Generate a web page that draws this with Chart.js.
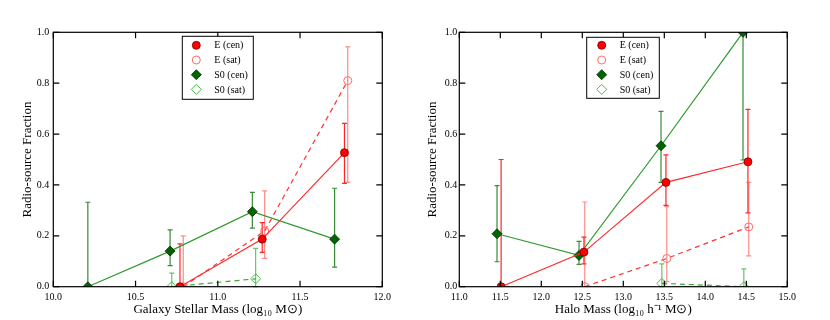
<!DOCTYPE html>
<html><head><meta charset="utf-8">
<script src="https://cdn.jsdelivr.net/npm/chart.js@4/dist/chart.umd.min.js"></script>
<style>
html,body{margin:0;padding:0;background:#fff;}
#wrap{width:830px;height:320px;position:relative;overflow:hidden;}
canvas{position:absolute;top:0;}
</style></head><body>
<div id="wrap"><canvas id="c1" width="415" height="320" style="left:0"></canvas><canvas id="c2" width="415" height="320" style="left:415px"></canvas></div>
<script>
// ---------- labels / ticks ----------
const seriesNames = ['E (cen)', 'E (sat)', 'S0 (cen)', 'S0 (sat)'];
const stellarTicks = [10.0, 10.5, 11.0, 11.5, 12.0];
const haloTicks = [11.0, 11.5, 12.0, 12.5, 13.0, 13.5, 14.0, 14.5, 15.0];
const fracTicks = [0.0, 0.2, 0.4, 0.6, 0.8, 1.0];
const leftXTitle = 'Galaxy Stellar Mass (log\u2081\u2080 M\u2299)';
const rightXTitle = 'Halo Mass (log\u2081\u2080 h\u207B\u00B9 M\u2299)';
const yTitle = 'Radio-source Fraction';

// ---------- left panel: galaxy stellar mass ----------
const smECenX = [10.77, 11.27, 11.77];
const smECenY = [0.0, 0.187, 0.527];
const smECenLo = [0.0, 0.135, 0.406];
const smECenHi = [0.168, 0.252, 0.642];

const smESatX = [10.79, 11.285, 11.79];
const smESatY = [0.0, 0.219, 0.810];
const smESatLo = [0.0, 0.111, 0.410];
const smESatHi = [0.200, 0.377, 0.943];

const smS0CenX = [10.21, 10.71, 11.21, 11.71];
const smS0CenY = [0.0, 0.140, 0.295, 0.187];
const smS0CenLo = [0.0, 0.083, 0.230, 0.077];
const smS0CenHi = [0.332, 0.223, 0.371, 0.387];

const smS0SatX = [10.72, 11.23];
const smS0SatY = [0.0, 0.031];
const smS0SatLo = [0.0, 0.0];
const smS0SatHi = [0.053, 0.151];

// ---------- right panel: halo mass ----------
const hmECenX = [11.51, 12.52, 13.52, 14.52];
const hmECenY = [0.0, 0.136, 0.410, 0.491];
const hmECenLo = [0.0, 0.090, 0.320, 0.290];
const hmECenHi = [0.500, 0.195, 0.518, 0.697];

const hmESatX = [12.53, 13.53, 14.53];
const hmESatY = [0.0, 0.111, 0.235];
const hmESatLo = [0.0, 0.020, 0.121];
const hmESatHi = [0.333, 0.315, 0.410];

const hmS0CenX = [11.46, 12.46, 13.46, 14.46];
const hmS0CenY = [0.208, 0.123, 0.554, 1.0];
const hmS0CenLo = [0.098, 0.088, 0.410, 0.498];
const hmS0CenHi = [0.397, 0.178, 0.689, 1.0];

const hmS0SatX = [13.47, 14.47];
const hmS0SatY = [0.013, 0.0];
const hmS0SatLo = [0.0, 0.0];
const hmS0SatHi = [0.090, 0.070];

// ---------- styles ----------
const styles = [
  {line: '#ff2b2b', dash: [], ps: 'circle', r: 4, bg: '#ff0000', bd: '#7a0000', bw: 0.8, err: 'rgba(255,0,0,0.85)'},
  {line: '#ff3030', dash: [5, 4], ps: 'circle', r: 4, bg: 'rgba(255,255,255,0)', bd: '#ff6a6a', bw: 1, err: 'rgba(255,60,60,0.6)'},
  {line: '#2f9a2f', dash: [], ps: 'rectRot', r: 5, bg: '#006400', bd: '#003000', bw: 0.8, err: 'rgba(20,120,20,0.85)'},
  {line: '#3aa63a', dash: [5, 4], ps: 'rectRot', r: 5, bg: 'rgba(255,255,255,0)', bd: '#4cbc4c', bw: 1, err: 'rgba(60,170,60,0.75)'}
];
const FONT = "'Liberation Serif', 'Times New Roman', serif";

function makeDataset(i, xs, ys, lo, hi) {
  const s = styles[i];
  return {
    label: seriesNames[i],
    data: xs.map((x, k) => ({x: x, y: ys[k]})),
    errLo: lo, errHi: hi,
    showLine: true,
    borderColor: s.line, borderWidth: 1.2, borderDash: s.dash,
    pointStyle: s.ps, pointRadius: s.r, pointHoverRadius: s.r,
    pointBackgroundColor: s.bg, pointBorderColor: s.bd, pointBorderWidth: s.bw,
    errColor: s.err, legendStyle: s
  };
}

const decoPlugin = {
  id: 'deco',
  beforeDatasetsDraw(chart) {
    const ctx = chart.ctx, xs = chart.scales.x, ys = chart.scales.y;
    ctx.save();
    chart.data.datasets.forEach(ds => {
      ctx.strokeStyle = ds.errColor; ctx.lineWidth = 1.2; ctx.setLineDash([]);
      ds.data.forEach((p, k) => {
        const px = xs.getPixelForValue(p.x);
        const y1 = ys.getPixelForValue(ds.errLo[k]);
        const y2 = ys.getPixelForValue(ds.errHi[k]);
        ctx.beginPath();
        ctx.moveTo(px, y1); ctx.lineTo(px, y2);
        if (ds.errHi[k] > ds.data[k].y) { ctx.moveTo(px - 2.5, y2); ctx.lineTo(px + 2.5, y2); }
        if (ds.errLo[k] < ds.data[k].y) { ctx.moveTo(px - 2.5, y1); ctx.lineTo(px + 2.5, y1); }
        ctx.stroke();
      });
    });
    ctx.restore();
  },
  afterDraw(chart, args, opts) {
    const ctx = chart.ctx, a = chart.chartArea, xs = chart.scales.x, ys = chart.scales.y;
    ctx.save();
    ctx.strokeStyle = '#000'; ctx.lineWidth = 1.2; ctx.setLineDash([]);
    ctx.strokeRect(a.left, a.top, a.right - a.left, a.bottom - a.top);
    const L = 6;
    ctx.beginPath();
    xs.ticks.forEach(t => {
      const px = xs.getPixelForValue(t.value);
      ctx.moveTo(px, a.bottom); ctx.lineTo(px, a.bottom - L);
      ctx.moveTo(px, a.top); ctx.lineTo(px, a.top + L);
    });
    ys.ticks.forEach(t => {
      const py = ys.getPixelForValue(t.value);
      ctx.moveTo(a.left, py); ctx.lineTo(a.left + L, py);
      ctx.moveTo(a.right, py); ctx.lineTo(a.right - L, py);
    });
    ctx.stroke();
    // legend
    const bx = a.left + opts.legendLeft, by = a.top + opts.legendTop;
    ctx.fillStyle = '#fff';
    ctx.fillRect(bx, by, opts.legendW, opts.legendH);
    ctx.strokeStyle = '#000'; ctx.lineWidth = 1;
    ctx.strokeRect(bx, by, opts.legendW, opts.legendH);
    ctx.font = '10px ' + FONT;
    ctx.textBaseline = 'middle'; ctx.textAlign = 'left';
    chart.data.datasets.forEach((ds, i) => {
      const s = ds.legendStyle;
      const cy = by + opts.rowTop + i * opts.rowGap;
      const cx = bx + opts.markerX;
      ctx.save();
      ctx.fillStyle = s.bg; ctx.strokeStyle = s.bd; ctx.lineWidth = s.bw;
      Chart.helpers.drawPoint(ctx, {pointStyle: s.ps, radius: s.r, borderWidth: s.bw, rotation: 0}, cx, cy);
      ctx.restore();
      ctx.fillStyle = '#000';
      ctx.fillText(ds.label, bx + opts.textX, cy + 0.5);
    });
    ctx.restore();
  }
};

function makeChart(id, cfg) {
  return new Chart(document.getElementById(id), {
    type: 'scatter',
    data: {datasets: cfg.datasets},
    options: {
      responsive: false, animation: false, devicePixelRatio: 1,
      layout: {padding: {left: cfg.padLeft, right: cfg.padRight, top: 32.3, bottom: 0}},
      plugins: {
        legend: {display: false}, tooltip: {enabled: false},
        deco: cfg.legend
      },
      scales: {
        x: {
          type: 'linear', min: cfg.xMin, max: cfg.xMax,
          afterBuildTicks: s => { s.ticks = cfg.xTicks.map(v => ({value: v})); },
          afterFit: s => { s.height = 33.3; },
          grid: {display: false, drawTicks: false}, border: {display: false},
          ticks: {autoSkip: false, maxRotation: 0, padding: 4.5, color: '#000',
                  font: {family: FONT, size: 10}, callback: v => Number(v).toFixed(1)},
          title: {display: true, text: cfg.xTitle, color: '#000', padding: {top: 0, bottom: 3},
                  font: {family: FONT, size: 13}}
        },
        y: {
          type: 'linear', min: 0, max: 1,
          afterBuildTicks: s => { s.ticks = fracTicks.map(v => ({value: v})); },
          afterFit: s => { s.width = cfg.yWidth; },
          grid: {display: false, drawTicks: false}, border: {display: false},
          ticks: {autoSkip: false, padding: cfg.yPad, color: '#000',
                  font: {family: FONT, size: 10}, callback: v => Number(v).toFixed(1)},
          title: {display: true, text: yTitle, color: '#000', padding: {top: 4, bottom: 0},
                  font: {family: FONT, size: 13}}
        }
      }
    },
    plugins: [decoPlugin]
  });
}

makeChart('c1', {
  datasets: [
    makeDataset(0, smECenX, smECenY, smECenLo, smECenHi),
    makeDataset(1, smESatX, smESatY, smESatLo, smESatHi),
    makeDataset(2, smS0CenX, smS0CenY, smS0CenLo, smS0CenHi),
    makeDataset(3, smS0SatX, smS0SatY, smS0SatLo, smS0SatHi)
  ],
  padLeft: 16, padRight: 32.7, yWidth: 37.3, yPad: 4,
  xMin: 10, xMax: 12, xTicks: stellarTicks, xTitle: leftXTitle,
  legend: {legendLeft: 129, legendTop: 4, legendW: 71, legendH: 63, rowTop: 9, rowGap: 14.7, markerX: 14, textX: 32}
});

makeChart('c2', {
  datasets: [
    makeDataset(0, hmECenX, hmECenY, hmECenLo, hmECenHi),
    makeDataset(1, hmESatX, hmESatY, hmESatLo, hmESatHi),
    makeDataset(2, hmS0CenX, hmS0CenY, hmS0CenLo, hmS0CenHi),
    makeDataset(3, hmS0SatX, hmS0SatY, hmS0SatLo, hmS0SatHi)
  ],
  padLeft: 6, padRight: 42.7, yWidth: 38.3, yPad: 2,
  xMin: 11, xMax: 15, xTicks: haloTicks, xTitle: rightXTitle,
  legend: {legendLeft: 127.4, legendTop: 5, legendW: 72.6, legendH: 61, rowTop: 8, rowGap: 14.7, markerX: 15, textX: 33}
});
</script>
</body></html>
